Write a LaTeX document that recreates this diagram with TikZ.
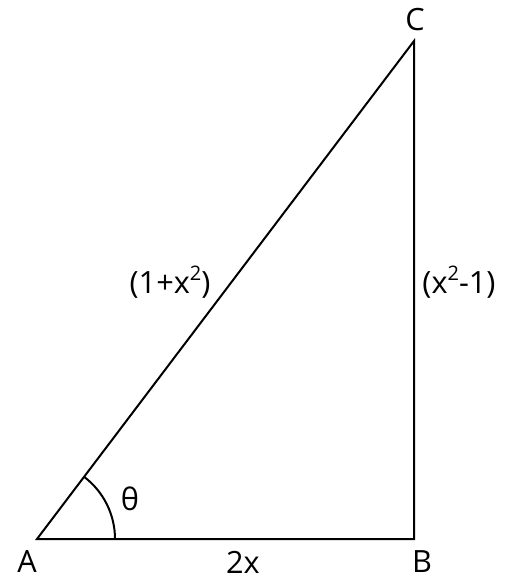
\documentclass[tikz,border=0pt]{standalone}
\usepackage{fontspec}
\setmainfont{Open Sans}
\newcommand{\sq}{\raisebox{0.42em}{\fontsize{15}{16}\selectfont 2}}
\begin{document}
\begin{tikzpicture}[x=0.75pt,y=-0.75pt,
  edge/.style={line width=1.5pt},
  lbl/.style={font=\fontsize{23}{25}\selectfont, inner sep=0pt}]
\useasboundingbox (0,0) rectangle (514,585);
\coordinate (A) at (37,539);
\coordinate (B) at (414,539);
\coordinate (C) at (414,41);
\draw[edge, line join=miter] (A) -- (B) -- (C) -- cycle;
\draw[edge] ([shift={(0:78)}]A) arc[start angle=0, end angle=-53, radius=78];
\node[lbl] (la) at (27,562) {A};
\node[lbl] (lb) at (422,562) {B};
\node[lbl] (lc) at (415,20) {C};
\node[lbl] (l2x) at (243,562) {2x};
\node[lbl] (lh) at (170,282) {(1+x\sq)};
\node[lbl] (lv) at (459,282) {(x\sq-1)};
\node[lbl] (lt) at (130,499) {θ};
\end{tikzpicture}
\end{document}
